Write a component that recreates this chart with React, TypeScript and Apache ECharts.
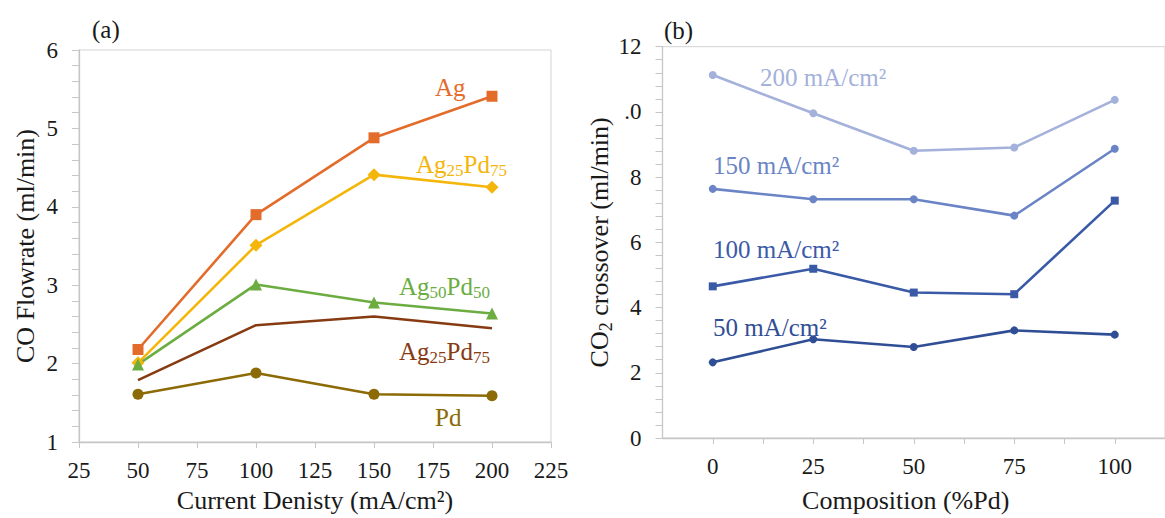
import React, { useEffect, useRef } from "react";
import * as echarts from "echarts";

// ---------- Panel (a) data ----------
const currentDensity = [50, 100, 150, 200];
const agValues = [2.18, 3.9, 4.88, 5.41];
const ag25pd75Values = [2.01, 3.51, 4.41, 4.25];
const ag50pd50Values = [1.99, 3.01, 2.78, 2.64];
const ag25pd75bValues = [1.79, 2.49, 2.6, 2.45];
const pdValues = [1.61, 1.88, 1.61, 1.59];

// ---------- Panel (b) data ----------
const compositionPd = [0, 25, 50, 75, 100];
const cd200Values = [11.13, 9.96, 8.81, 8.91, 10.37];
const cd150Values = [7.64, 7.32, 7.32, 6.82, 8.87];
const cd100Values = [4.65, 5.19, 4.46, 4.41, 7.28];
const cd50Values = [2.32, 3.03, 2.79, 3.3, 3.17];

const FONT = "Liberation Serif";
const TEXT = "#1a1a1a";
const AXIS = "#c6c6c6";

const C_AG = "#E46C2B";
const C_Y = "#F5B60C";
const C_G = "#6CAD42";
const C_BR = "#873B12";
const C_PD = "#8C6A05";

const C_200 = "#A3B1DB";
const C_150 = "#6A84C6";
const C_100 = "#3A5AA8";
const C_50 = "#2F4E95";

const TITLE_SIZE = 26;

const pairs = (xs: number[], ys: number[]) => xs.map((x, i) => [x, ys[i]]);

function subRich(color: string, size = 25) {
  return {
    n: { fontFamily: FONT, fontSize: size, color, lineHeight: 30, verticalAlign: "middle" },
    s: { fontFamily: FONT, fontSize: Math.round(size * 0.68), color, lineHeight: 16, verticalAlign: "bottom" },
  };
}

function label(x: number, y: number, text: string, color: string) {
  return {
    type: "text",
    x,
    y,
    silent: true,
    style: {
      text,
      rich: subRich(color),
      align: "left",
      verticalAlign: "middle",
      fill: color,
      fontFamily: FONT,
      fontSize: 25,
    },
  };
}

function plainText(x: number, y: number, text: string, color: string) {
  return {
    type: "text",
    x,
    y,
    silent: true,
    style: { text, fontFamily: FONT, fontSize: 25, fill: color, verticalAlign: "middle" },
  };
}

export default function App() {
  const ref = useRef<HTMLDivElement>(null);

  useEffect(() => {
    if (!ref.current) return;
    const chart = echarts.init(ref.current, undefined, { renderer: "svg" });

    const axisLabelStyle = { fontFamily: FONT, fontSize: 23, color: TEXT };
    const nameStyle = { fontFamily: FONT, fontSize: TITLE_SIZE, color: TEXT, lineHeight: 24 };

    const lineSeries = (
      xi: number,
      yi: number,
      name: string,
      data: number[][],
      color: string,
      symbol: string,
      size: number
    ) => ({
      type: "line",
      name,
      xAxisIndex: xi,
      yAxisIndex: yi,
      data,
      symbol,
      symbolSize: size,
      showSymbol: symbol !== "none",
      lineStyle: { color, width: 2.6 },
      itemStyle: { color },
      z: 3,
    });

    chart.setOption({
      animation: false,
      backgroundColor: "#ffffff",
      textStyle: { fontFamily: FONT },
      grid: [
        {
          left: 79,
          top: 50,
          width: 472,
          height: 393,
          show: true,
          borderColor: "#d3d3d3",
          borderWidth: 1,
          containLabel: false,
        },
        {
          left: 662.5,
          top: 46.7,
          width: 511,
          height: 391.6,
          show: true,
          borderColor: "#d3d3d3",
          borderWidth: 1,
          containLabel: false,
        },
      ],
      xAxis: [
        {
          gridIndex: 0,
          type: "value",
          min: 25,
          max: 225,
          interval: 25,
          name: "Current Denisty (mA/cm²)",
          nameLocation: "middle",
          nameGap: 46,
          nameTextStyle: nameStyle,
          axisLine: { show: true, onZero: false, lineStyle: { color: AXIS, width: 1.3 } },
          axisTick: { show: true, length: 6, lineStyle: { color: AXIS } },
          axisLabel: { ...axisLabelStyle, margin: 17 },
          splitLine: { show: false },
        },
        {
          gridIndex: 1,
          type: "value",
          min: -12.5,
          max: 112.5,
          interval: 12.5,
          name: "Composition (%Pd)",
          nameLocation: "middle",
          nameGap: 50,
          nameTextStyle: { ...nameStyle, padding: [0, 16, 0, 0] },
          axisLine: { show: true, onZero: false, lineStyle: { color: AXIS, width: 1.3 } },
          axisTick: { show: true, length: 6, lineStyle: { color: AXIS } },
          axisLabel: {
            ...axisLabelStyle,
            margin: 17,
            showMinLabel: false,
            showMaxLabel: false,
            formatter: (v: number) =>
              v >= 0 && v <= 100 && Math.abs(v % 25) < 1e-6 ? String(v) : "",
          },
          splitLine: { show: false },
        },
      ],
      yAxis: [
        {
          gridIndex: 0,
          type: "value",
          min: 1,
          max: 6,
          interval: 1,
          name: "CO Flowrate (ml/min)",
          nameLocation: "middle",
          nameGap: 42,
          nameTextStyle: nameStyle,
          axisLine: { show: true, onZero: false, lineStyle: { color: AXIS, width: 1.3 } },
          axisTick: { show: true, length: 7, lineStyle: { color: AXIS } },
          minorTick: { show: true, splitNumber: 5, length: 7, lineStyle: { color: AXIS } },
          axisLabel: { ...axisLabelStyle, margin: 21 },
          splitLine: { show: false },
          minorSplitLine: { show: false },
        },
        {
          gridIndex: 1,
          type: "value",
          min: 0,
          max: 12,
          interval: 2,
          name: "{n|CO}{s|2}{n| crossover (ml/min)}",
          nameLocation: "middle",
          nameGap: 42,
          nameTextStyle: {
            ...nameStyle,
            rich: subRich(TEXT, TITLE_SIZE),
          },
          axisLine: { show: true, onZero: false, lineStyle: { color: AXIS, width: 1.3 } },
          axisTick: { show: true, length: 7, lineStyle: { color: AXIS } },
          minorTick: { show: true, splitNumber: 5, length: 7, lineStyle: { color: AXIS } },
          axisLabel: {
            ...axisLabelStyle,
            margin: 21,
            formatter: (v: number) => (v === 10 ? ".0" : String(v)),
          },
          splitLine: { show: false },
          minorSplitLine: { show: false },
        },
      ],
      series: [
        lineSeries(0, 0, "Ag", pairs(currentDensity, agValues), C_AG, "rect", 11),
        lineSeries(0, 0, "Ag25Pd75 (a)", pairs(currentDensity, ag25pd75Values), C_Y, "diamond", 13),
        lineSeries(0, 0, "Ag50Pd50", pairs(currentDensity, ag50pd50Values), C_G, "triangle", 12),
        lineSeries(0, 0, "Ag25Pd75 (b)", pairs(currentDensity, ag25pd75bValues), C_BR, "none", 0),
        lineSeries(0, 0, "Pd", pairs(currentDensity, pdValues), C_PD, "circle", 11),
        lineSeries(1, 1, "200 mA/cm²", pairs(compositionPd, cd200Values), C_200, "circle", 8),
        lineSeries(1, 1, "150 mA/cm²", pairs(compositionPd, cd150Values), C_150, "circle", 8),
        lineSeries(1, 1, "100 mA/cm²", pairs(compositionPd, cd100Values), C_100, "rect", 8),
        lineSeries(1, 1, "50 mA/cm²", pairs(compositionPd, cd50Values), C_50, "circle", 8),
      ],
      graphic: [
        plainText(92, 29, "(a)", TEXT),
        plainText(664, 30, "(b)", TEXT),
        label(435, 87, "{n|Ag}", C_AG),
        label(416, 164, "{n|Ag}{s|25}{n|Pd}{s|75}", C_Y),
        label(399, 286, "{n|Ag}{s|50}{n|Pd}{s|50}", C_G),
        label(399, 351, "{n|Ag}{s|25}{n|Pd}{s|75}", C_BR),
        label(435, 417, "{n|Pd}", C_PD),
        plainText(760, 77, "200 mA/cm²", C_200),
        plainText(713, 165, "150 mA/cm²", C_150),
        plainText(713, 249, "100 mA/cm²", C_100),
        plainText(713, 327, "50 mA/cm²", C_50),
      ],
    });

    return () => chart.dispose();
  }, []);

  return (
    <div
      style={{
        position: "fixed",
        left: 0,
        top: 0,
        width: 1165,
        height: 518,
        overflow: "hidden",
        background: "#fff",
      }}
    >
      <div ref={ref} style={{ width: 1165, height: 518 }} />
    </div>
  );
}
